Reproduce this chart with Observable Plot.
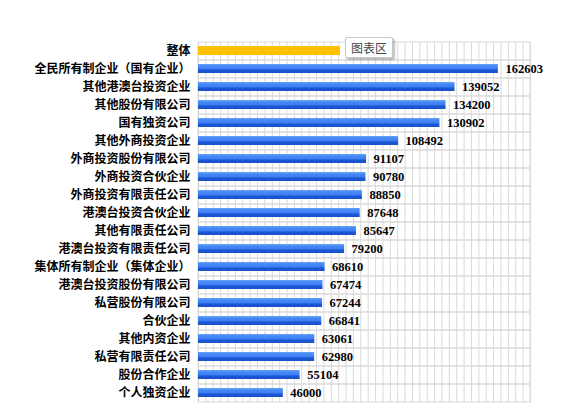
<!DOCTYPE html>
<html>
<head>
<meta charset="utf-8">
<script src="https://cdn.jsdelivr.net/npm/d3@7"></script>
<script src="https://cdn.jsdelivr.net/npm/@observablehq/plot@0.6"></script>
<style>
  body { margin: 0; background: #fff; }
  #wrap { position: relative; width: 570px; height: 411px; }
  #tip {
    position: absolute; left: 345px; top: 37px; width: 46px; height: 19px;
    background: #fff; border: 1px solid #c8c8c8; border-radius: 2px;
    box-shadow: 2px 2px 2px rgba(0,0,0,0.25);
    font: 12px "Noto Sans CJK SC", sans-serif; color: #444;
    text-align: center; line-height: 19px;
  }
</style>
</head>
<body>
<div id="wrap"><div id="tip">图表区</div></div>
<script>
const categories = [
  "整体",
  "全民所有制企业（国有企业）",
  "其他港澳台投资企业",
  "其他股份有限公司",
  "国有独资公司",
  "其他外商投资企业",
  "外商投资股份有限公司",
  "外商投资合伙企业",
  "外商投资有限责任公司",
  "港澳台投资合伙企业",
  "其他有限责任公司",
  "港澳台投资有限责任公司",
  "集体所有制企业（集体企业）",
  "港澳台投资股份有限公司",
  "私营股份有限公司",
  "合伙企业",
  "其他内资企业",
  "私营有限责任公司",
  "股份合作企业",
  "个人独资企业"
];
const values = [77000, 162603, 139052, 134200, 130902, 108492, 91107, 90780, 88850, 87648, 85647, 79200, 68610, 67474, 67244, 66841, 63061, 62980, 55104, 46000];
const highlight = "整体";
const xMax = 180000;
const gridStep = 4000;

const data = categories.map((c, i) => ({category: c, value: values[i]}));

const chart = Plot.plot({
  width: 570,
  height: 411,
  marginLeft: 198,
  marginRight: 40,
  marginTop: 42,
  marginBottom: 9,
  style: {fontFamily: "'Noto Sans CJK SC', sans-serif", fontSize: "12px", background: "#fff"},
  x: {domain: [0, xMax], axis: null},
  y: {domain: categories, padding: 0, axis: null},
  marks: [
    Plot.ruleX(d3.range(0, xMax + 1, gridStep), {stroke: "#d9d9d9", strokeWidth: 1}),
    Plot.barX(categories, {y: d => d, x1: 0, x2: xMax, fill: "none", stroke: "#d9d9d9", strokeWidth: 1}),
    Plot.barX(data, {
      y: "category", x: "value",
      fill: d => d.category === highlight ? "#FFC000" : "url(#blueGrad)",
      insetTop: 4, insetBottom: 5
    }),
    Plot.text(data.filter(d => d.category !== highlight), {
      y: "category", x: "value", text: d => String(d.value),
      textAnchor: "start", dx: 7, dy: -0.5,
      fontFamily: "'Liberation Serif', 'Times New Roman', serif",
      fontWeight: "bold", fontSize: 12.5, fill: "#000"
    }),
    Plot.axisY({
      tickSize: 0, tickPadding: 8, fontWeight: "bold", fontSize: 12,
      fill: "#000", label: null
    })
  ]
});

const svg = d3.select(chart);
const defs = svg.insert("defs", ":first-child");
const g = defs.append("linearGradient").attr("id", "blueGrad")
  .attr("x1", 0).attr("y1", 0).attr("x2", 0).attr("y2", 1);
g.append("stop").attr("offset", "0%").attr("stop-color", "#6aa3f8");
g.append("stop").attr("offset", "20%").attr("stop-color", "#4a8cf5");
g.append("stop").attr("offset", "58%").attr("stop-color", "#3a7bf0");
g.append("stop").attr("offset", "64%").attr("stop-color", "#1a56d6");
g.append("stop").attr("offset", "100%").attr("stop-color", "#1b52c8");

document.getElementById("wrap").insertBefore(chart, document.getElementById("tip"));
</script>
</body>
</html>
